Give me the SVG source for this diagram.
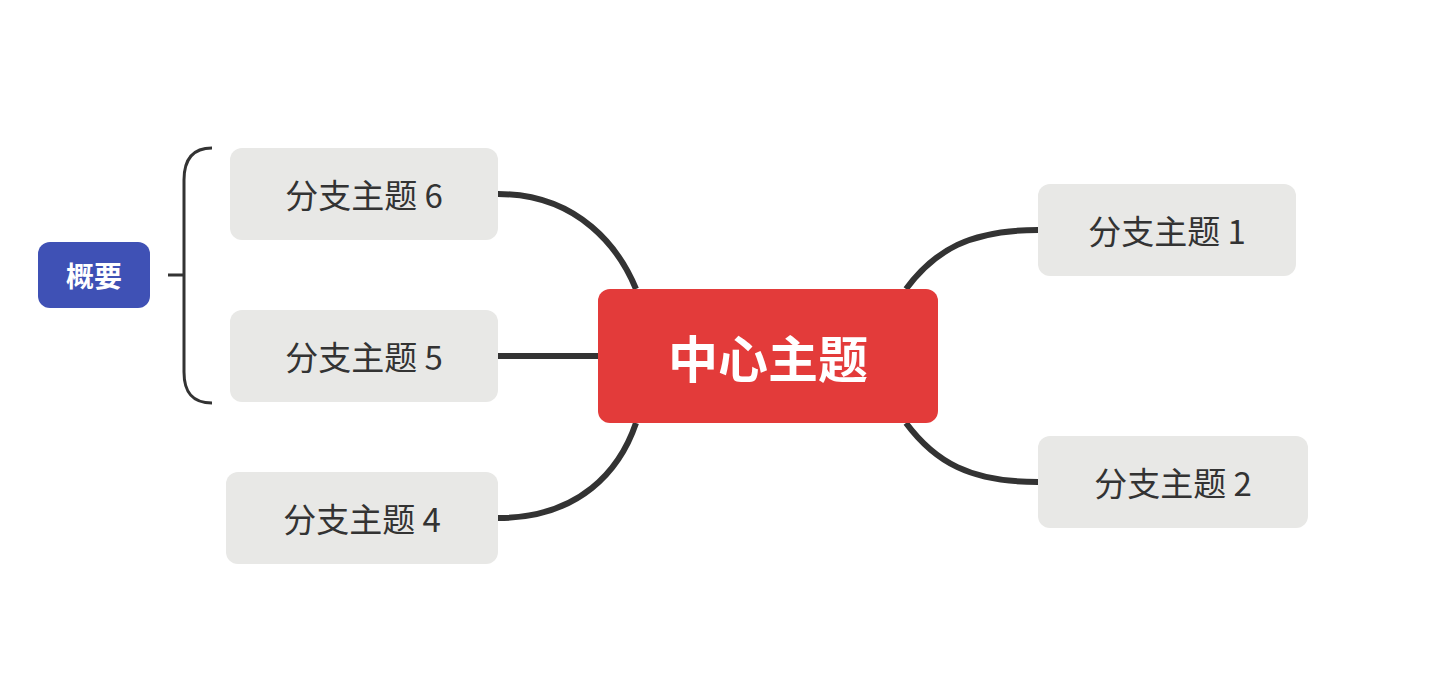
<svg xmlns="http://www.w3.org/2000/svg" width="1440" height="690" viewBox="0 0 1440 690">
<style>
.b{fill:#E8E8E6}
.bt{font-family:"Noto Sans CJK SC","Noto Sans",sans-serif;font-size:33px;fill:#333;text-anchor:middle;dominant-baseline:central}
.c{fill:none;stroke:#333;stroke-width:6}
</style>
<rect width="1440" height="690" fill="#fff"/>
<g id="connectors">
<path class="c" d="M498,194 C580,194 620,250 636,289"/>
<path class="c" d="M498,356 L598,356"/>
<path class="c" d="M636,423 C620,470 580,518 498,518"/>
<path class="c" d="M906,289 C935,250 970,230 1038,230"/>
<path class="c" d="M906,423 C935,462 970,482 1038,482"/>
<path d="M212,148 C192,148 184,160 184,180 L184,372 C184,392 192,403 212,403 M168,275 L184,275" fill="none" stroke="#333" stroke-width="3"/>
</g>
<g id="center"><rect x="598" y="289" width="340" height="134" rx="12" fill="#E33B3A"/>
<text x="768" y="356" font-family="Noto Sans CJK SC,sans-serif" font-size="50" font-weight="bold" fill="#fff" text-anchor="middle" dominant-baseline="central">中心主题</text></g>
<g id="n6"><rect class="b" x="230" y="148" width="268" height="92" rx="12"/><text class="bt" x="364" y="194">分支主题 6</text></g>
<g id="n5"><rect class="b" x="230" y="310" width="268" height="92" rx="12"/><text class="bt" x="364" y="356">分支主题 5</text></g>
<g id="n4"><rect class="b" x="226" y="472" width="272" height="92" rx="12"/><text class="bt" x="362" y="518">分支主题 4</text></g>
<g id="n1"><rect class="b" x="1038" y="184" width="258" height="92" rx="12"/><text class="bt" x="1167" y="230">分支主题 1</text></g>
<g id="n2"><rect class="b" x="1038" y="436" width="270" height="92" rx="12"/><text class="bt" x="1173" y="482">分支主题 2</text></g>
<g id="summary"><rect x="38" y="242" width="112" height="66" rx="12" fill="#3F51B5"/>
<text x="94" y="275" font-family="Noto Sans CJK SC,sans-serif" font-size="28" font-weight="bold" fill="#fff" text-anchor="middle" dominant-baseline="central">概要</text></g>
</svg>
